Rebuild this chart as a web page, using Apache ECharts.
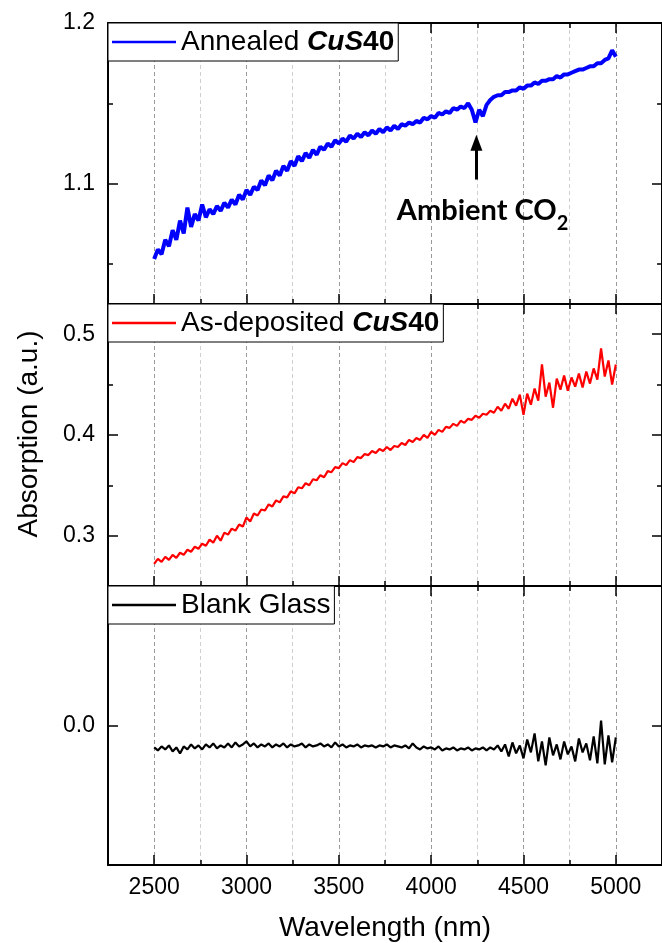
<!DOCTYPE html>
<html>
<head>
<meta charset="utf-8">
<title>Absorption spectra</title>
<script src="https://cdn.jsdelivr.net/npm/echarts@6.0.0/dist/echarts.min.js"></script>
<style>
    html, body {margin: 0; padding: 0; background: #fff;}
    #chartBox {width: 662px; height: 943px;}
</style>
</head>
<body>
<div id="chartBox"></div>
<script>
// wavelength grid (nm)
var wavelengths = [
    2500, 2520, 2540, 2560, 2580, 2600, 2620, 2640, 2660, 2680,
    2700, 2720, 2740, 2760, 2780, 2800, 2820, 2840, 2860, 2880,
    2900, 2920, 2940, 2960, 2980, 3000, 3020, 3040, 3060, 3080,
    3100, 3120, 3140, 3160, 3180, 3200, 3220, 3240, 3260, 3280,
    3300, 3320, 3340, 3360, 3380, 3400, 3420, 3440, 3460, 3480,
    3500, 3520, 3540, 3560, 3580, 3600, 3620, 3640, 3660, 3680,
    3700, 3720, 3740, 3760, 3780, 3800, 3820, 3840, 3860, 3880,
    3900, 3920, 3940, 3960, 3980, 4000, 4020, 4040, 4060, 4080,
    4100, 4120, 4140, 4160, 4180, 4200, 4220, 4240, 4260, 4280,
    4300, 4320, 4340, 4360, 4380, 4400, 4420, 4440, 4460, 4480,
    4500, 4520, 4540, 4560, 4580, 4600, 4620, 4640, 4660, 4680,
    4700, 4720, 4740, 4760, 4780, 4800, 4820, 4840, 4860, 4880,
    4900, 4920, 4940, 4960, 4980, 5000
];
var annealed = [
    1.053, 1.059, 1.056, 1.065, 1.061, 1.071, 1.065, 1.077, 1.069, 1.085,
    1.073, 1.081, 1.077, 1.087, 1.079, 1.084, 1.081, 1.086, 1.083, 1.088,
    1.085, 1.090, 1.087, 1.093, 1.090, 1.096, 1.093, 1.098, 1.096, 1.102,
    1.099, 1.105, 1.102, 1.108, 1.105, 1.111, 1.108, 1.114, 1.111, 1.117,
    1.114, 1.119, 1.116, 1.121, 1.118, 1.123, 1.121, 1.125, 1.123, 1.127,
    1.125, 1.128, 1.126, 1.130, 1.128, 1.131, 1.129, 1.132, 1.130, 1.133,
    1.131, 1.134, 1.132, 1.135, 1.133, 1.136, 1.134, 1.137, 1.136, 1.138,
    1.137, 1.139, 1.138, 1.141, 1.140, 1.142, 1.141, 1.144, 1.143, 1.145,
    1.144, 1.147, 1.146, 1.148, 1.147, 1.150, 1.146, 1.138, 1.146, 1.142,
    1.149, 1.152, 1.154, 1.155, 1.155, 1.157, 1.157, 1.158, 1.158, 1.160,
    1.159, 1.161, 1.161, 1.163, 1.162, 1.164, 1.164, 1.165, 1.165, 1.167,
    1.166, 1.168, 1.168, 1.169, 1.170, 1.171, 1.171, 1.172, 1.173, 1.173,
    1.175, 1.175, 1.177, 1.178, 1.183, 1.179
];
var asDeposited = [
    0.272, 0.277, 0.274, 0.279, 0.276, 0.281, 0.278, 0.283, 0.281, 0.286,
    0.284, 0.289, 0.287, 0.292, 0.290, 0.296, 0.293, 0.300, 0.295, 0.303,
    0.301, 0.307, 0.305, 0.311, 0.309, 0.318, 0.314, 0.322, 0.320, 0.326,
    0.325, 0.331, 0.329, 0.335, 0.333, 0.339, 0.338, 0.344, 0.342, 0.348,
    0.347, 0.352, 0.350, 0.356, 0.355, 0.360, 0.358, 0.364, 0.363, 0.368,
    0.367, 0.372, 0.370, 0.375, 0.373, 0.378, 0.377, 0.381, 0.380, 0.384,
    0.382, 0.386, 0.384, 0.388, 0.385, 0.389, 0.388, 0.392, 0.390, 0.395,
    0.393, 0.397, 0.395, 0.400, 0.397, 0.403, 0.400, 0.405, 0.403, 0.408,
    0.407, 0.411, 0.409, 0.414, 0.412, 0.416, 0.415, 0.419, 0.417, 0.421,
    0.420, 0.424, 0.422, 0.428, 0.424, 0.431, 0.426, 0.436, 0.429, 0.440,
    0.420, 0.441, 0.430, 0.446, 0.434, 0.470, 0.438, 0.452, 0.427, 0.456,
    0.445, 0.459, 0.444, 0.457, 0.448, 0.461, 0.447, 0.463, 0.451, 0.466,
    0.455, 0.486, 0.458, 0.474, 0.450, 0.470
];
var blankGlass = [
    -0.022, -0.025, -0.021, -0.024, -0.020, -0.026, -0.022, -0.028, -0.021, -0.024,
    -0.019, -0.023, -0.020, -0.024, -0.019, -0.022, -0.018, -0.023, -0.020, -0.022,
    -0.018, -0.022, -0.017, -0.021, -0.019, -0.016, -0.021, -0.018, -0.022, -0.019,
    -0.021, -0.018, -0.022, -0.019, -0.021, -0.018, -0.022, -0.019, -0.021, -0.020,
    -0.018, -0.022, -0.019, -0.021, -0.020, -0.018, -0.021, -0.019, -0.022, -0.017,
    -0.021, -0.019, -0.022, -0.020, -0.021, -0.019, -0.022, -0.020, -0.021, -0.020,
    -0.022, -0.020, -0.021, -0.019, -0.022, -0.020, -0.021, -0.022, -0.020, -0.023,
    -0.018, -0.022, -0.024, -0.021, -0.023, -0.022, -0.024, -0.021, -0.025, -0.023,
    -0.024, -0.022, -0.025, -0.023, -0.024, -0.022, -0.025, -0.023, -0.024, -0.022,
    -0.025, -0.022, -0.024, -0.020, -0.026, -0.019, -0.031, -0.017, -0.028, -0.020,
    -0.033, -0.014, -0.027, -0.008, -0.036, -0.016, -0.040, -0.012, -0.030, -0.019,
    -0.034, -0.016, -0.029, -0.021, -0.036, -0.013, -0.027, -0.018, -0.035, -0.011,
    -0.038, 0.005, -0.039, -0.010, -0.037, -0.012
];
var panelNames = ['Annealed CuS40', 'As-deposited CuS40', 'Blank Glass'];
var xMajorTicks = [2500, 3000, 3500, 4000, 4500, 5000];
var xMinorTicks = [2750, 3250, 3750, 4250, 4750];
var yRanges = [[1.025, 1.2], [0.25, 0.53], [-0.14, 0.14]];
var yMajorTicks = [[1.1, 1.2], [0.3, 0.4, 0.5], [0.0]];
var yMinorTicks = [[1.05, 1.15], [0.35, 0.45], []];

var font = "'Liberation Sans', Arial, sans-serif";
var gridTop = [23, 304, 586];
var gridHeight = [281, 282, 281];
var colors = ['#0000ff', '#ff0000', '#000000'];
var lineWidths = [4, 2.2, 2.2];
var panelData = [annealed, asDeposited, blankGlass];

var myChart = echarts.init(document.getElementById('chartBox'));

function pairs(values) {
    var out = [];
    for (var k = 0; k < values.length; k++) {
        out.push([wavelengths[k], values[k]]);
    }
    return out;
}

function xAxisFor(i, position, major) {
    var showLabel = major && position === 'bottom' && i === 2;
    return {
        type: 'value', gridIndex: i, position: position,
        min: 2250, max: 5250, interval: 250,
        axisLine: {show: major, onZero: false, lineStyle: {color: '#000', width: 2}},
        axisTick: {show: true, inside: true, length: major ? 10 : 5,
            customValues: major ? xMajorTicks : xMinorTicks,
            lineStyle: {color: '#000', width: 1.5}},
        axisLabel: {show: showLabel, customValues: xMajorTicks, margin: 11,
            fontSize: 23, color: '#000', fontFamily: font,
            formatter: function (v) { return String(v); }},
        splitLine: {show: position === 'bottom',
            lineStyle: {type: [4, 3], color: major ? '#9a9a9a' : '#cfcfcf', width: 1}},
        name: showLabel ? 'Wavelength (nm)' : '',
        nameLocation: 'middle', nameGap: 49,
        nameTextStyle: {fontSize: 28, color: '#000', fontFamily: font}
    };
}

function yAxisFor(i, position, major) {
    var ticks = major ? yMajorTicks[i] : yMinorTicks[i];
    return {
        type: 'value', gridIndex: i, position: position,
        min: yRanges[i][0], max: yRanges[i][1],
        axisLine: {show: major, onZero: false, lineStyle: {color: '#000', width: 2}},
        axisTick: {show: ticks.length > 0, inside: true, length: major ? 10 : 5,
            customValues: ticks, lineStyle: {color: '#000', width: 1.5}},
        axisLabel: {show: major && position === 'left', customValues: yMajorTicks[i],
            margin: 13, fontSize: 23, color: '#000', fontFamily: font,
            formatter: function (v) { return v.toFixed(1); }},
        splitLine: {show: false}
    };
}

var grids = [], xAxes = [], yAxes = [], legends = [], seriesList = [];
for (var i = 0; i < 3; i++) {
    grids.push({left: 108, top: gridTop[i], width: 555, height: gridHeight[i]});
    xAxes.push(xAxisFor(i, 'bottom', true), xAxisFor(i, 'bottom', false),
        xAxisFor(i, 'top', true), xAxisFor(i, 'top', false));
    yAxes.push(yAxisFor(i, 'left', true), yAxisFor(i, 'left', false),
        yAxisFor(i, 'right', true), yAxisFor(i, 'right', false));
    legends.push({
        data: [panelNames[i]],
        left: 108, top: gridTop[i],
        padding: [5, 4, 5, 4],
        icon: 'rect',
        itemWidth: 64, itemHeight: 2.5,
        borderColor: '#000', borderWidth: 1, borderRadius: 0,
        backgroundColor: '#fff',
        selectedMode: false,
        formatter: function (name) {
            if (name === 'Blank Glass') return '{n|Blank Glass}';
            return '{n|' + name.replace('CuS40', '') + '}{bi|CuS}{b|40}';
        },
        textStyle: {
            rich: {
                n: {fontSize: 28, fontFamily: font, color: '#000', lineHeight: 30},
                bi: {fontSize: 28, fontFamily: font, color: '#000', lineHeight: 30,
                    fontWeight: 'bold', fontStyle: 'italic'},
                b: {fontSize: 28, fontFamily: font, color: '#000', lineHeight: 30,
                    fontWeight: 'bold'}
            }
        }
    });
    seriesList.push({
        name: panelNames[i], type: 'line',
        xAxisIndex: i * 4, yAxisIndex: i * 4,
        data: pairs(panelData[i]),
        symbol: 'none', showSymbol: false,
        lineStyle: {color: colors[i], width: lineWidths[i]},
        itemStyle: {color: colors[i]}
    });
}

// CO2 annotation on the annealed panel
seriesList[0].markLine = {
    silent: true,
    symbol: ['none', 'triangle'], symbolSize: [12, 16],
    lineStyle: {color: '#000', width: 3, type: 'solid'},
    label: {show: false},
    data: [[{coord: [4245, 1.1025]}, {coord: [4245, 1.1255]}]]
};
seriesList[0].markPoint = {
    silent: true,
    symbol: 'circle', symbolSize: 0,
    label: {
        show: true, position: 'inside',
        formatter: '{m|Ambient CO}{s|2}',
        rich: {
            m: {fontFamily: 'Lato', fontWeight: 'bold', fontSize: 29, color: '#000', lineHeight: 46},
            s: {fontFamily: 'Lato', fontWeight: 'bold', fontSize: 20, color: '#000',
                lineHeight: 24, verticalAlign: 'bottom'}
        }
    },
    data: [{coord: [4278, 1.0832]}]
};

var option = {
    animation: false,
    backgroundColor: '#fff',
    grid: grids,
    xAxis: xAxes,
    yAxis: yAxes,
    legend: legends,
    graphic: [{
        type: 'text', x: 29, y: 434, rotation: Math.PI / 2,
        style: {text: 'Absorption (a.u.)', fontSize: 28, fontFamily: font, fill: '#000',
            align: 'center', verticalAlign: 'middle'}
    }],
    series: seriesList
};
myChart.setOption(option);
</script>
</body>
</html>
